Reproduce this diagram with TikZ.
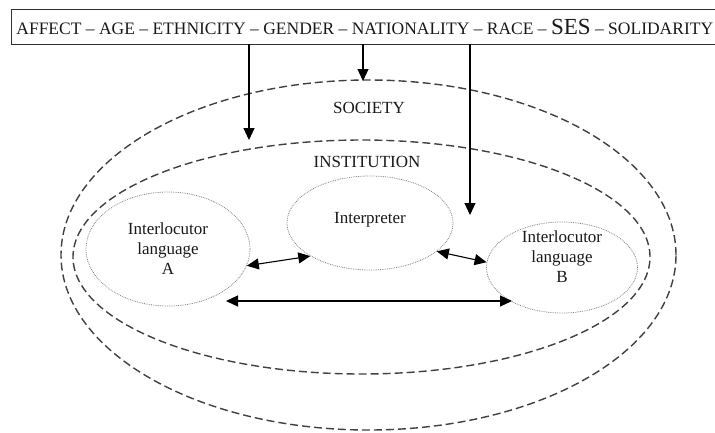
\documentclass[tikz,border=0pt]{standalone}
\usepackage{fontspec}
\setmainfont{Liberation Serif}
\usetikzlibrary{arrows.meta,shapes.geometric}
\begin{document}
\begin{tikzpicture}[x=1pt,y=-1pt,
  txt/.style={font=\fontsize{17}{20}\selectfont, inner sep=0pt, align=center, text=black!90},
  bigell/.style={ellipse, draw=black!75, line width=1.4pt, dash pattern=on 8pt off 4pt, inner sep=0pt},
  smallell/.style={ellipse, draw=black!50, line width=0.8pt, densely dotted, inner sep=0pt, align=center, font=\fontsize{17}{20}\selectfont, text=black!90},
  arr/.style={-{Triangle[length=12pt,width=11pt]}, line width=1.1pt},
  darr/.style={{Triangle[length=12pt,width=11pt]}-{Triangle[length=12pt,width=11pt]}, line width=1.1pt}]
\useasboundingbox (0,0) rectangle (715,432);

% top box
\node[draw=black!80, line width=0.8pt, minimum height=35pt, anchor=west, inner xsep=5pt,
      font=\fontsize{17.5}{20}\selectfont, text=black!90] (top) at (11,26.5)
  {AFFECT -- AGE -- ETHNICITY -- GENDER -- NATIONALITY -- RACE -- {\fontsize{23}{23}\selectfont SES} -- SOLIDARITY};

% big ellipses
\node[bigell, minimum width=615pt, minimum height=350pt] (soc) at (368.5,255) {};
\node[bigell, minimum width=577pt, minimum height=234pt] (inst) at (361.5,257) {};
\node[txt] (soclab) at (369,108) {SOCIETY};
\node[txt] (instlab) at (367,162) {INSTITUTION};

% small ellipses
\node[smallell, minimum width=164pt, minimum height=114pt] (A) at (168,249) {Interlocutor\\language\\A};
\node[smallell, minimum width=166pt, minimum height=94pt] (I) at (370,223) {};
\node[txt] (Itext) at (370,220) {Interpreter};
\node[smallell, minimum width=151pt, minimum height=91pt] (B) at (562,267.5) {};
\node[txt] (Btext) at (562,257) {Interlocutor\\language\\B};

% vertical arrows
\coordinate (t1) at (249,140);
\coordinate (t2) at (363,81);
\coordinate (t3) at (470,215);
\draw[arr] (top.south -| t1) -- (t1);
\draw[arr] (top.south -| t2) -- (t2);
\draw[arr] (top.south -| t3) -- (t3);

% double arrows
\draw[darr] (A.-12) -- (I.-151);
\draw[darr] (I.-23) -- (B.176.6);
\coordinate (ab1) at (226,301);
\coordinate (ab2) at (512,301);
\draw[darr] (ab1) -- (ab2);
\end{tikzpicture}
\end{document}
